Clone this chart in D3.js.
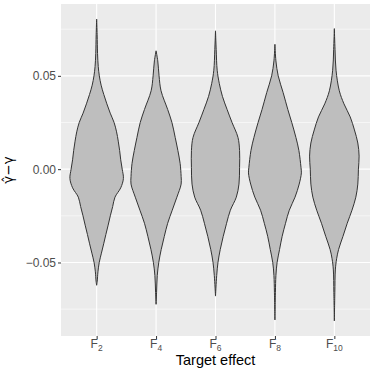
<!DOCTYPE html>
<html>
<head>
<meta charset="utf-8">
<script src="https://cdn.jsdelivr.net/npm/d3@7"></script>
<style>
body { margin: 0; background: #fff; }
text { font-family: "Liberation Sans", Arial, sans-serif; }
</style>
</head>
<body>
<div id="chart"></div>
<script>
var categories = ["F2", "F4", "F6", "F8", "F10"];
var subLabels = ["2", "4", "6", "8", "10"];
var yTicks = [-0.05, 0, 0.05];
var yTickLabels = ["\u22120.05", "0.00", "0.05"];
var yMinor = [-0.075, -0.025, 0.025, 0.075];

// density profiles: [value, relative density]
var f2 = [[0.0804,0],[0.072,0.5],[0.062,0.9],[0.055,1.6],[0.050,2.7],[0.045,4.5],[0.040,7.2],[0.035,10.3],[0.030,13.7],[0.025,17.6],[0.020,20.1],[0.015,21.8],[0.010,23.2],[0.005,24.3],[0.000,25.8],[-0.005,27.0],[-0.010,24.3],[-0.015,18.5],[-0.020,16.2],[-0.025,13.8],[-0.030,11.6],[-0.035,9.3],[-0.040,7.1],[-0.045,4.8],[-0.050,2.6],[-0.055,1.3],[-0.060,0.6],[-0.0622,0]];
var f4 = [[0.0634,0],[0.058,1.7],[0.050,3.0],[0.042,5.0],[0.032,11.7],[0.025,16.0],[0.017,19.3],[0.010,22.0],[0.003,24.3],[-0.004,25.3],[-0.008,25.3],[-0.015,21.0],[-0.022,16.3],[-0.029,11.7],[-0.036,8.3],[-0.043,5.2],[-0.050,2.7],[-0.057,1.2],[-0.066,0.5],[-0.0724,0]];
var f6 = [[0.0741,0],[0.064,0.7],[0.053,1.7],[0.046,3.8],[0.039,7.0],[0.032,11.7],[0.025,16.7],[0.017,22.7],[0.010,24.3],[0.001,24.3],[-0.008,23.7],[-0.015,21.0],[-0.022,15.0],[-0.029,11.2],[-0.036,7.8],[-0.043,4.8],[-0.050,2.5],[-0.057,1.2],[-0.068,0]];
var f8 = [[0.0669,0],[0.058,1.0],[0.050,3.3],[0.041,8.3],[0.032,13.0],[0.025,17.0],[0.017,21.2],[0.010,24.2],[0.001,26.3],[-0.002,26.7],[-0.008,24.5],[-0.015,20.3],[-0.022,14.5],[-0.029,10.7],[-0.036,7.3],[-0.043,4.7],[-0.050,2.2],[-0.057,1.0],[-0.066,0.5],[-0.0808,0]];
var f10 = [[0.0753,0],[0.064,0.7],[0.053,1.7],[0.042,5.0],[0.035,9.7],[0.028,16.0],[0.021,20.3],[0.014,23.7],[0.007,25.0],[0.000,24.3],[-0.008,23.7],[-0.015,21.7],[-0.022,17.8],[-0.029,13.0],[-0.036,8.7],[-0.043,4.3],[-0.048,2.3],[-0.054,1.0],[-0.066,0.5],[-0.0813,0]];
var profiles = [f2, f4, f6, f8, f10];

var W = 374, H = 374;
var margin = {top: 4, right: 4, bottom: 38, left: 61};
var w = W - margin.left - margin.right,
    h = H - margin.top - margin.bottom;

var svg = d3.select("#chart")
  .append("svg")
  .attr("width", W)
  .attr("height", H)
  .append("g")
  .attr("transform", "translate(" + margin.left + "," + margin.top + ")");

/*Scales*/
var allVals = [];
profiles.forEach(function(p) { p.forEach(function(d) { allVals.push(d[0]); }); });
var ext = d3.extent(allVals);
var pad = (ext[1] - ext[0]) * 0.05;
var yScale = d3.scaleLinear()
  .domain([ext[0] - pad, ext[1] + pad])
  .range([h, 0]);
var xScale = d3.scalePoint()
  .domain(categories)
  .range([0, w])
  .padding(0.6);
var maxDens = d3.max(profiles, function(p) { return d3.max(p, function(d) { return d[1]; }); });
var wScale = d3.scaleLinear()
  .domain([0, maxDens])
  .range([0, xScale.step() * 0.45]);

/*Panel*/
svg.append("rect")
  .attr("width", w)
  .attr("height", h)
  .attr("fill", "#EBEBEB");

svg.selectAll(".minor")
  .data(yMinor)
  .enter()
  .append("line")
  .attr("x1", 0).attr("x2", w)
  .attr("y1", function(d) { return yScale(d); })
  .attr("y2", function(d) { return yScale(d); })
  .attr("stroke", "#fff")
  .attr("stroke-width", 0.55);

svg.selectAll(".majorY")
  .data(yTicks)
  .enter()
  .append("line")
  .attr("x1", 0).attr("x2", w)
  .attr("y1", function(d) { return yScale(d); })
  .attr("y2", function(d) { return yScale(d); })
  .attr("stroke", "#fff")
  .attr("stroke-width", 1.1);

svg.selectAll(".majorX")
  .data(categories)
  .enter()
  .append("line")
  .attr("y1", 0).attr("y2", h)
  .attr("x1", function(d) { return xScale(d); })
  .attr("x2", function(d) { return xScale(d); })
  .attr("stroke", "#fff")
  .attr("stroke-width", 1.1);

/*Violins*/
profiles.forEach(function(p, i) {
  var cx = xScale(categories[i]);
  var area = d3.area()
    .curve(d3.curveCatmullRom)
    .y(function(d) { return yScale(d[0]); })
    .x0(function(d) { return cx - wScale(d[1]); })
    .x1(function(d) { return cx + wScale(d[1]); });
  svg.append("path")
    .datum(p)
    .attr("d", area)
    .attr("fill", "#BEBEBE")
    .attr("stroke", "#333333")
    .attr("stroke-width", 1)
    .attr("stroke-linejoin", "round");
});

/*Axes*/
var yAxis = d3.axisLeft(yScale)
  .tickValues(yTicks)
  .tickSize(3)
  .tickPadding(2)
  .tickFormat(function(d, i) { return yTickLabels[i]; });
var gy = svg.append("g").call(yAxis);
gy.select(".domain").remove();
gy.selectAll("line").attr("stroke", "#333333").attr("stroke-width", 1);
gy.selectAll("text")
  .attr("fill", "#4D4D4D")
  .style("font-size", "12px")
  .style("font-family", "'Liberation Sans', Arial, sans-serif");

var xAxis = d3.axisBottom(xScale)
  .tickSize(3)
  .tickFormat("");
var gx = svg.append("g")
  .attr("transform", "translate(0," + h + ")")
  .call(xAxis);
gx.select(".domain").remove();
gx.selectAll("line").attr("stroke", "#333333").attr("stroke-width", 1);

var xl = svg.selectAll(".xlab")
  .data(categories)
  .enter()
  .append("text")
  .attr("x", function(d) { return xScale(d); })
  .attr("y", h + 12)
  .attr("text-anchor", "middle")
  .attr("fill", "#4D4D4D")
  .style("font-size", "12px");
xl.append("tspan").text("F");
xl.append("tspan")
  .attr("dy", 2.5)
  .style("font-size", "8.5px")
  .text(function(d, i) { return subLabels[i]; });

svg.append("text")
  .attr("x", w / 2)
  .attr("y", h + 29)
  .attr("text-anchor", "middle")
  .attr("fill", "#000")
  .style("font-size", "14.5px")
  .text("Target effect");

svg.append("text")
  .attr("transform", "translate(" + (-48.5) + "," + (h / 2) + ") rotate(-90)")
  .attr("text-anchor", "middle")
  .attr("fill", "#000")
  .style("font-size", "13.5px")
  .style("font-family", "'DejaVu Sans', sans-serif")
  .text("\u03B3\u0302\u2212\u03B3");
</script>
</body>
</html>
